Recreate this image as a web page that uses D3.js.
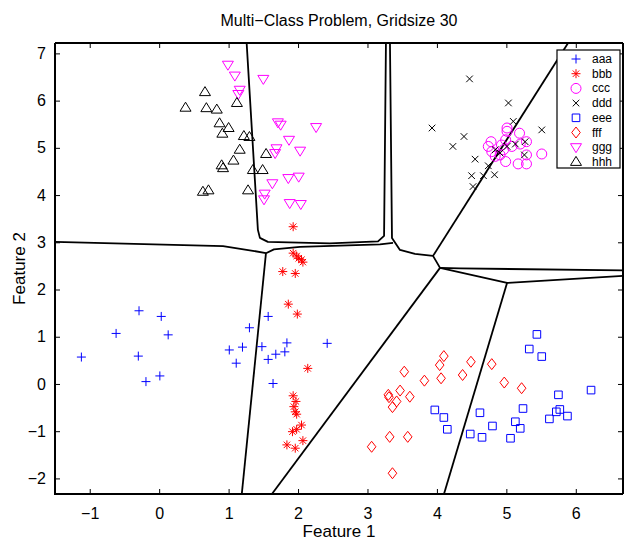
<!DOCTYPE html>
<html><head><meta charset="utf-8">
<script src="https://cdn.jsdelivr.net/npm/d3@7"></script>
<style>
body{margin:0;background:#fff;}
text{font-family:"Liberation Sans",Arial,Helvetica,sans-serif;}
</style></head>
<body><svg id="c" width="624" height="541"></svg>
<script>
const xTicks=[-1,0,1,2,3,4,5,6];
const yTicks=[-2,-1,0,1,2,3,4,5,6,7];
const classNames=["aaa","bbb","ccc","ddd","eee","fff","ggg","hhh"];
const classColors=["#0000ff","#ff0000","#ff00ff","#000000","#0000ff","#ff0000","#ff00ff","#000000"];
const classShapes=["plus","star","circle","x","square","diamond","tdown","tup"];

const aaa=[[-1.12,0.57],[-0.62,1.07],[-0.29,1.55],[-0.30,0.59],[-0.19,0.05],[0.01,0.17],[0.03,1.43],[0.13,1.04],[1.01,0.72],[1.11,0.44],[1.20,0.78],[1.30,1.19],[1.48,0.79],[1.57,1.43],[1.57,0.52],[1.68,0.63],[1.81,0.68],[1.84,0.87],[1.64,0.01],[2.42,0.86]];
const bbb=[[1.93,2.77],[1.98,2.71],[2.01,2.66],[2.05,2.63],[2.07,2.58],[1.78,2.38],[1.96,2.34],[1.86,1.69],[1.99,1.48],[2.14,0.33],[1.93,-0.25],[1.97,-0.37],[1.94,-0.48],[1.96,-0.59],[1.98,-0.64],[2.05,-0.87],[1.98,-0.96],[1.92,-1.01],[2.07,-1.20],[1.84,-1.29],[1.96,-1.36],[1.93,3.33]];
const ccc=[[5.01,5.42],[5.01,5.35],[5.19,5.31],[4.78,5.13],[4.74,5.03],[4.79,4.92],[4.84,4.82],[4.91,4.85],[4.93,5.06],[4.99,5.17],[5.08,5.03],[5.20,5.08],[5.29,5.13],[5.29,4.85],[5.17,4.66],[5.29,4.66],[5.51,4.87],[4.99,4.71],[4.96,4.96]];
const ddd=[[4.47,6.46],[5.03,5.95],[3.93,5.42],[4.39,5.24],[4.23,5.03],[4.55,4.76],[4.74,4.62],[4.50,4.41],[4.67,4.41],[4.83,4.43],[4.52,4.18],[5.10,5.56],[5.51,5.38],[4.84,4.96],[5.01,5.03],[5.13,5.08],[5.27,5.13],[5.26,4.85],[4.91,4.89]];
const eee=[[3.97,-0.55],[4.10,-0.71],[4.15,-0.96],[4.48,-1.06],[4.65,-1.13],[4.62,-0.61],[4.80,-0.89],[5.06,-1.15],[5.13,-0.80],[5.20,-0.94],[5.24,-0.52],[5.33,0.74],[5.44,1.05],[5.51,0.58],[5.62,-0.74],[5.72,-0.59],[5.77,-0.54],[5.75,-0.23],[5.88,-0.68],[6.22,-0.13]];
const fff=[[3.06,-1.33],[3.30,-0.23],[3.31,-0.28],[3.36,-0.49],[3.42,-0.37],[3.47,-0.14],[3.53,0.26],[3.61,-0.27],[3.32,-1.12],[3.58,-1.12],[3.36,-1.89],[3.82,0.07],[4.04,0.40],[4.10,0.59],[4.06,0.12],[4.37,0.19],[4.49,0.47],[4.79,0.42],[4.97,0.03],[5.22,-0.09]];
const ggg=[[0.99,6.76],[1.09,6.53],[1.16,6.23],[1.14,6.14],[1.50,6.46],[1.71,5.54],[1.75,5.49],[1.87,5.17],[1.69,4.99],[1.67,4.89],[1.63,4.25],[1.52,4.03],[1.51,3.91],[1.88,3.83],[1.86,4.36],[2.26,5.44],[2.03,4.94],[2.01,4.39],[2.04,3.81]];
const hhh=[[0.38,5.85],[0.66,6.18],[0.68,5.84],[0.83,5.81],[0.87,5.52],[0.91,5.30],[1.00,5.42],[1.12,5.95],[1.22,5.25],[1.30,5.23],[1.16,4.96],[1.07,4.73],[0.90,4.63],[0.92,4.57],[0.63,4.07],[0.71,4.10],[1.28,4.10],[1.35,4.53],[1.49,4.53],[1.54,4.87]];
const classData=[aaa,bbb,ccc,ddd,eee,fff,ggg,hhh];

// decision boundaries (data coordinates)
const bndA=[[-1.5,3.01],[0.92,2.92],[1.35,2.82],[1.538,2.769]];
const bndB=[[1.538,2.769],[1.19,-2.33]];
const bndC=[[1.538,2.769],[1.653,2.850],[2.028,2.903],[3.180,2.956],[3.368,2.987]];
const bndD=[[1.26,7.22],[1.422,3.263],[1.451,3.093],[1.566,3.008],[2.460,2.977],[3.152,3.019],[3.239,3.136],[3.266,7.22]];
const bndE=[[3.324,7.22],[3.353,3.093],[3.468,2.839],[3.684,2.754],[3.944,2.712],[4.045,2.458]];
const bndF=[[5.889,7.22],[3.944,2.712]];
const bndG1=[[4.045,2.458],[4.333,2.447],[6.68,2.405]];
const bndG2=[[4.045,2.458],[5.010,2.140],[6.68,2.288]];
const bndH=[[4.045,2.458],[1.624,-2.33]];
const bndI=[[5.010,2.140],[4.102,-2.33]];
const boundaries=[bndA,bndB,bndC,bndD,bndE,bndF,bndG1,bndG2,bndH,bndI];

const L=55,R=623,T=43,B=494;
const x=d3.scaleLinear().domain([-1.5,6.68]).range([L,R]);
const y=d3.scaleLinear().domain([-2.33,7.22]).range([B,T]);
const svg=d3.select("#c");

function markerPath(shape){
  switch(shape){
    case "plus": return "M-4.5,0H4.5M0,-4.5V4.5";
    case "star": return "M-4.5,0H4.5M0,-4.5V4.5M-3.2,-3.2L3.2,3.2M-3.2,3.2L3.2,-3.2";
    case "circle": return "M5,0A5,5 0 1,1 -5,0A5,5 0 1,1 5,0Z";
    case "x": return "M-3.3,-3.3L3.3,3.3M-3.3,3.3L3.3,-3.3";
    case "square": return "M-3.8,-3.8H3.8V3.8H-3.8Z";
    case "diamond": return "M0,-5.5L4.3,0L0,5.5L-4.3,0Z";
    case "tdown": return "M-5.5,-3.5H5.5L0,5.5Z";
    case "tup": return "M-5.5,3.5H5.5L0,-5.5Z";
  }
}

// boundaries
const line=d3.line().x(d=>x(d[0])).y(d=>y(d[1]));
svg.append("defs").append("clipPath").attr("id","clip").append("rect").attr("x",L).attr("y",T).attr("width",R-L).attr("height",B-T);
const gb=svg.append("g").attr("clip-path","url(#clip)");
gb.selectAll("path.b").data(boundaries).join("path").attr("class","b")
  .attr("d",line).attr("fill","none").attr("stroke","#000").attr("stroke-width",1.8).attr("stroke-linejoin","round");

// points
const gp=svg.append("g");
classData.forEach((pts,i)=>{
  gp.append("g").selectAll("path").data(pts).join("path")
    .attr("transform",d=>`translate(${x(d[0])},${y(d[1])})`)
    .attr("d",markerPath(classShapes[i]))
    .attr("fill","none").attr("stroke",classColors[i]).attr("stroke-width",1);
});

// axes
function styleAxis(g){g.select(".domain").remove();g.selectAll("line").attr("stroke","#000").attr("stroke-width",1);}
svg.append("g").attr("transform",`translate(0,${B})`).call(d3.axisBottom(x).tickValues(xTicks).tickSize(-5).tickPadding(10).tickFormat(d=>d<0?"\u2212"+Math.abs(d):d))
  .call(styleAxis).selectAll("text").attr("font-size",16).attr("fill","#000").attr("font-family","Liberation Sans, Arial, sans-serif").attr("dy","0.95em");
svg.append("g").attr("transform",`translate(0,${T})`).call(d3.axisTop(x).tickValues(xTicks).tickSize(-5).tickFormat(""))
  .call(styleAxis);
svg.append("g").attr("transform",`translate(${L},0)`).call(d3.axisLeft(y).tickValues(yTicks).tickSize(-5).tickPadding(9).tickFormat(d=>d<0?"\u2212"+Math.abs(d):d))
  .call(styleAxis).selectAll("text").attr("font-size",16).attr("fill","#000").attr("font-family","Liberation Sans, Arial, sans-serif");
svg.append("g").attr("transform",`translate(${R},0)`).call(d3.axisRight(y).tickValues(yTicks).tickSize(-5).tickFormat(""))
  .call(styleAxis);

// frame
svg.append("path").attr("d",`M${L},${T}H${R}M${L},${T}V${B}H${R}`).attr("fill","none").attr("stroke","#000").attr("stroke-width",2);
svg.append("line").attr("x1",R).attr("x2",R).attr("y1",T).attr("y2",B).attr("stroke","#000").attr("stroke-width",2);

// labels
svg.append("text").attr("x",(L+R)/2).attr("y",26).attr("text-anchor","middle").attr("font-size",16).text("Multi\u2212Class Problem, Gridsize 30");
svg.append("text").attr("x",(L+R)/2).attr("y",537).attr("text-anchor","middle").attr("font-size",17).text("Feature 1");
svg.append("text").attr("transform",`translate(25,${(T+B)/2}) rotate(-90)`).attr("text-anchor","middle").attr("font-size",17).text("Feature 2");

// legend
const lg=svg.append("g");
lg.append("rect").attr("x",557).attr("y",50).attr("width",63).attr("height",118).attr("fill","#fff").attr("stroke","#000").attr("stroke-width",1.2);
classNames.forEach((n,i)=>{
  const yy=59+i*14.7;
  lg.append("path").attr("transform",`translate(576,${yy})`).attr("d",markerPath(classShapes[i])).attr("fill","none").attr("stroke",classColors[i]).attr("stroke-width",1);
  lg.append("text").attr("x",592).attr("y",yy+4).attr("font-size",12).text(n);
});
</script></body></html>
